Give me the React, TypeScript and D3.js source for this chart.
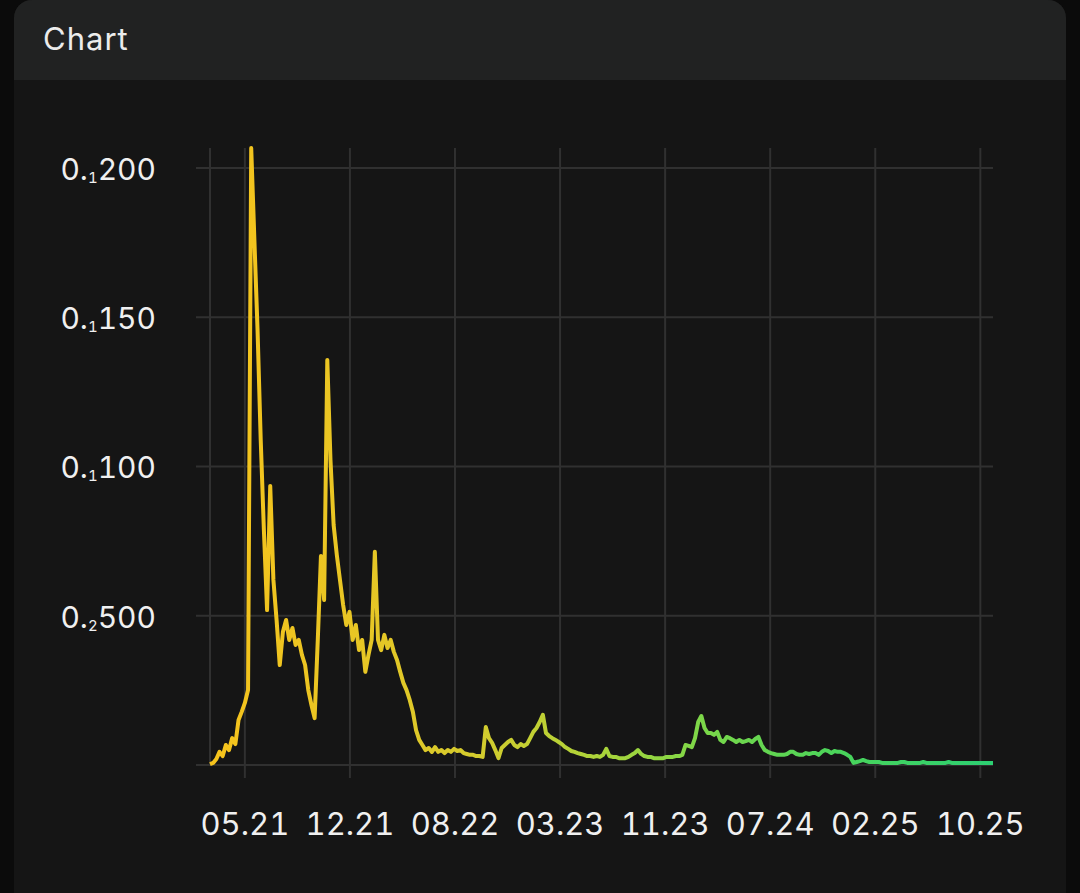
import React, { useEffect } from 'react';
import * as d3 from 'd3';

// ---- data ----
const START_DATE = '2021-02-13';
const STEP_DAYS = 7;
const PRICES: number[] = [
  0.00003, 0.00007, 0.0002, 0.00044, 0.0003, 0.00067, 0.0005, 0.0009, 0.0007, 0.00151, 0.00178, 0.00208,
  0.00251, 0.02067, 0.01759, 0.01457, 0.01089, 0.00787, 0.00519, 0.00935, 0.0062, 0.00486, 0.00335, 0.00446,
  0.00486, 0.00419, 0.00459, 0.00402, 0.00419, 0.00369, 0.00335, 0.00251, 0.00201, 0.00157, 0.00419, 0.007,
  0.00553, 0.01357, 0.01022, 0.00804, 0.00704, 0.0062, 0.00536, 0.00469, 0.00513, 0.00419, 0.00469, 0.00385,
  0.00419, 0.00312, 0.00369, 0.00419, 0.00714, 0.00419, 0.00385, 0.00436, 0.00392, 0.00419, 0.00379, 0.00352,
  0.00312, 0.00275, 0.00251, 0.00218, 0.00178, 0.00117, 0.00084, 0.00067, 0.0005, 0.00057, 0.00044, 0.0006,
  0.00044, 0.0005, 0.0004, 0.0005, 0.00044, 0.00054, 0.00047, 0.0005, 0.0004, 0.00037, 0.00034, 0.00034,
  0.0003, 0.0003, 0.00027, 0.00127, 0.0009, 0.00074, 0.0005, 0.00023, 0.00057, 0.00067, 0.00077, 0.00084,
  0.00067, 0.0006, 0.0007, 0.00064, 0.0007, 0.0009, 0.00111, 0.00124, 0.00144, 0.00168, 0.00107, 0.00097,
  0.0009, 0.00084, 0.00077, 0.0007, 0.0006, 0.00054, 0.00047, 0.00044, 0.0004, 0.00037, 0.00034, 0.0003,
  0.0003, 0.00027, 0.0003, 0.00027, 0.00034, 0.00054, 0.0003, 0.00027, 0.00027, 0.00023, 0.00023, 0.00023,
  0.00027, 0.00034, 0.0004, 0.0005, 0.00037, 0.0003, 0.00027, 0.00027, 0.00023, 0.00023, 0.00023, 0.00023,
  0.00027, 0.00027, 0.00027, 0.0003, 0.0003, 0.00034, 0.00067, 0.00064, 0.0006, 0.0009, 0.00144, 0.00164,
  0.00124, 0.00107, 0.00107, 0.00101, 0.00111, 0.00084, 0.00077, 0.00094, 0.0009, 0.00084, 0.00077, 0.00084,
  0.00077, 0.0008, 0.00084, 0.00077, 0.00087, 0.00094, 0.00067, 0.0005, 0.00044, 0.0004, 0.00037, 0.00034,
  0.00034, 0.00034, 0.00037, 0.00044, 0.00044, 0.00037, 0.00034, 0.00034, 0.0004, 0.00037, 0.0004, 0.0004,
  0.00034, 0.00044, 0.0005, 0.00047, 0.0004, 0.00047, 0.00044, 0.00044, 0.0004, 0.00034, 0.00027, 0.00007,
  0.0001, 0.00013, 0.00017, 0.00013, 0.0001, 0.0001, 0.0001, 0.0001, 0.00007, 0.00007, 0.00007, 0.00007,
  0.00007, 0.00007, 0.0001, 0.0001, 0.00007, 0.00007, 0.00007, 0.00007, 0.00007, 0.0001, 0.00007, 0.00007,
  0.00007, 0.00007, 0.00007, 0.00007, 0.00007, 0.0001, 0.00007, 0.00007, 0.00007, 0.00007, 0.00007, 0.00007,
  0.00007, 0.00007, 0.00007, 0.00007, 0.00007, 0.00007, 0.00007, 0.00007,
];
const X_TICK_DATES = [
  '2021-05-01', '2021-12-19', '2022-08-08', '2023-03-28',
  '2023-11-15', '2024-07-04', '2025-02-21', '2025-10-11',
];
const Y_TICKS = [0, 0.005, 0.01, 0.015, 0.02];
const TITLE = 'Chart';

const GRADIENT_STOPS = [
  { offset: 0, color: '#f6c31c' },
  { offset: 0.2, color: '#e7c625' },
  { offset: 0.35, color: '#d2cc2e' },
  { offset: 0.5, color: '#abd43a' },
  { offset: 0.65, color: '#74d74b' },
  { offset: 0.8, color: '#4ad45a' },
  { offset: 1, color: '#2ccf72' },
];

function subscriptParts(v: number) {
  const zeros = Math.ceil(-Math.log10(v)) - 1;
  const digits = Math.round(v * Math.pow(10, zeros + 3));
  return { zeros: String(zeros), digits: String(digits) };
}

export default function App() {
  useEffect(() => {
    document.body.style.margin = '0';
    document.body.style.background = '#0b0b0b';
  }, []);

  const W = 1080;
  const H = 893;
  const left = 210, right = 993, top = 148, bottom = 765;
  const font = 'Inter, "Noto Sans", sans-serif';

  const parse = d3.utcParse('%Y-%m-%d');
  const start = parse(START_DATE) as Date;
  const data = PRICES.map((v, i) => ({ date: d3.utcDay.offset(start, i * STEP_DAYS), value: v }));
  const x = d3.scaleUtc().domain(d3.extent(data, d => d.date) as [Date, Date]).range([left, right]);
  const y = d3.scaleLinear().domain([0, d3.max(PRICES) as number]).range([bottom, top]);
  const line = d3.line<{ date: Date; value: number }>()
    .x(d => x(d.date))
    .y(d => y(d.value))
    .curve(d3.curveLinear);
  const fmt = d3.utcFormat('%m.%y');
  const xTicks = X_TICK_DATES.map(s => parse(s) as Date);

  const grid = '#303030';

  return (
    <svg width={W} height={H} style={{ position: 'absolute', left: 0, top: 0, display: 'block' }}>
      <defs>
        <linearGradient id="lineGrad" gradientUnits="userSpaceOnUse" x1={left} x2={right} y1={0} y2={0}>
          {GRADIENT_STOPS.map(s => (
            <stop key={s.offset} offset={s.offset} stopColor={s.color} />
          ))}
        </linearGradient>
      </defs>
      <rect x={0} y={0} width={W} height={H} fill="#0b0b0b" />
      <rect x={14} y={0} width={1052} height={H + 30} rx={18} fill="#151515" />
      <path d={`M14,80 L14,18 A18,18 0 0 1 32,0 L1048,0 A18,18 0 0 1 1066,18 L1066,80 Z`} fill="#212222" />
      <text x={43} y={50} fill="#ececec" fontSize={31} letterSpacing={1} fontFamily={font}>{TITLE}</text>

      {/* horizontal grid */}
      {Y_TICKS.map(t => (
        <line key={'h' + t} x1={left - 14} x2={right} y1={y(t)} y2={y(t)} stroke={grid} strokeWidth={2} />
      ))}
      {/* left axis line */}
      <line x1={left} x2={left} y1={top} y2={bottom} stroke={grid} strokeWidth={2} />
      {/* vertical grid */}
      {xTicks.map((d, i) => (
        <line key={'v' + i} x1={x(d)} x2={x(d)} y1={top} y2={bottom + 13} stroke={grid} strokeWidth={2} />
      ))}

      {/* y labels */}
      {Y_TICKS.filter(t => t > 0).map(t => {
        const p = subscriptParts(t);
        return (
          <text key={'yl' + t} x={156} y={y(t) + 12} textAnchor="end" fill="#f0f0f0" fontSize={30}
            fontFamily={font} style={{ fontVariantNumeric: 'tabular-nums' }}>
            0.<tspan fontSize={15} dy={3}>{p.zeros}</tspan><tspan dy={-3}>{p.digits}</tspan>
          </text>
        );
      })}

      {/* x labels */}
      {xTicks.map((d, i) => (
        <text key={'xl' + i} x={x(d)} y={835} textAnchor="middle" fill="#f0f0f0" fontSize={31}
          fontFamily={font} style={{ fontVariantNumeric: 'tabular-nums' }}>
          {fmt(d)}
        </text>
      ))}

      <path d={line(data) || ''} fill="none" stroke="url(#lineGrad)" strokeWidth={4} strokeLinejoin="round" />
    </svg>
  );
}
